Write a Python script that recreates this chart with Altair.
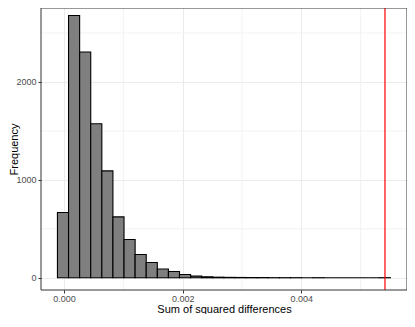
import altair as alt
import pandas as pd

# Histogram counts (30 bins)
bin_counts = [666, 2680, 2306, 1574, 1092, 622, 391, 238, 156, 89,
              64, 34, 17, 10, 6, 4, 3, 2, 2, 1,
              1, 1, 0, 1, 0, 0, 0, 0, 0, 1]
bin_start = -0.00011
bin_width = 0.000187
observed_value = [0.005409]

x_major = [0.0, 0.002, 0.004]
x_minor = [0.001, 0.003, 0.005]
y_major = [0, 1000, 2000]
y_minor = [500, 1500, 2500]

bars = pd.DataFrame({
    "start": [bin_start + i * bin_width for i in range(len(bin_counts))],
    "end": [bin_start + (i + 1) * bin_width for i in range(len(bin_counts))],
    "count": bin_counts,
})

FONT = "Liberation Sans"
W, H = 366, 282
xscale = alt.Scale(domain=[-0.000387, 0.00578], nice=False, zero=False)
yscale = alt.Scale(domain=[-125, 2756], nice=False, zero=False)

xaxis = alt.Axis(values=x_major, format=".3f", title="Sum of squared differences",
                 grid=True, gridColor="#EBEBEB", gridWidth=1,
                 domain=False, tickColor="#333333", tickSize=3,
                 labelColor="#4D4D4D", labelFontSize=9, labelFont=FONT, labelPadding=1,
                 titleFont=FONT, titleFontSize=11, titleFontWeight="normal",
                 titleColor="black", titleY=22, titleBaseline="alphabetic")
yaxis = alt.Axis(values=y_major, format="d", title="Frequency",
                 grid=True, gridColor="#EBEBEB", gridWidth=1,
                 domain=False, tickColor="#333333", tickSize=3,
                 labelColor="#4D4D4D", labelFontSize=9, labelFont=FONT, labelPadding=2,
                 titleFont=FONT, titleFontSize=11, titleFontWeight="normal",
                 titleColor="black", titleX=-27, titleY=H / 2, titleAngle=270,
                 titleAlign="center", titleBaseline="middle")

hist = alt.Chart(bars).mark_rect(fill="#7F7F7F", stroke="black", strokeWidth=1.1).encode(
    x=alt.X("start:Q", scale=xscale, axis=xaxis),
    x2="end:Q",
    y=alt.Y("count:Q", scale=yscale, axis=yaxis),
    y2=alt.datum(0),
)

xminor = alt.Chart(pd.DataFrame({"v": x_minor})).mark_rule(
    color="#F2F2F2", strokeWidth=1).encode(x=alt.X("v:Q", scale=xscale, axis=xaxis))
yminor = alt.Chart(pd.DataFrame({"v": y_minor})).mark_rule(
    color="#F2F2F2", strokeWidth=1).encode(y=alt.Y("v:Q", scale=yscale, axis=yaxis))

vline = alt.Chart(pd.DataFrame({"v": observed_value})).mark_rule(
    color="red", strokeWidth=1.2).encode(x=alt.X("v:Q", scale=xscale, axis=xaxis))

# panel border drawn on top so grid lines do not break it
frame = alt.Chart(pd.DataFrame({"v": [0]})).mark_rect(
    fillOpacity=0, stroke="#333333", strokeWidth=1).encode(
    x=alt.value(0), x2=alt.value(W), y=alt.value(0), y2=alt.value(H))

chart = alt.layer(xminor, yminor, hist, vline, frame).properties(
    width=W, height=H,
    autosize=alt.AutoSizeParams(type="none"),
    padding={"left": 33, "top": 0, "right": 0, "bottom": 24},
).configure_view(stroke=None)

chart.save("out.html", embed_options={"renderer": "svg", "actions": False})
